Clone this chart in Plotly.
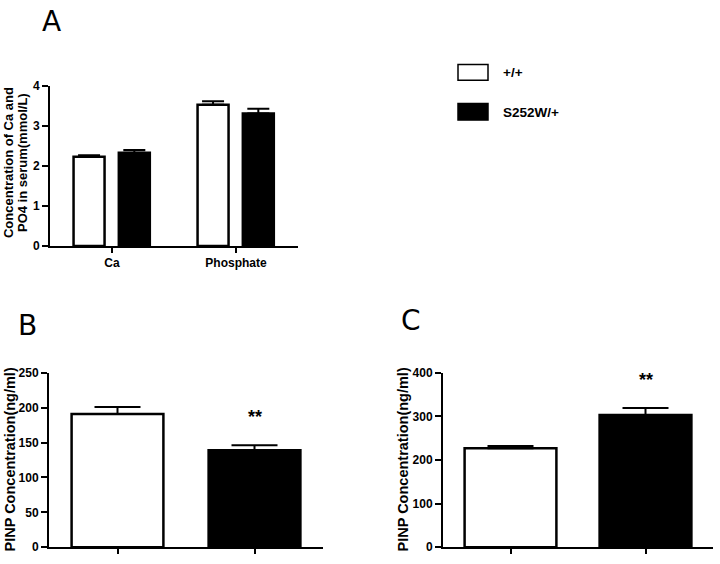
import plotly.graph_objects as go

# ---- Data ----
a_categories = ["Ca", "Phosphate"]
a_wt = [2.23, 3.53]
a_wt_err = [0.04, 0.09]
a_mut = [2.33, 3.31]
a_mut_err = [0.07, 0.12]

b_groups = ["+/+", "S252W/+"]
b_values = [191, 139]
b_err = [10, 7]

c_groups = ["+/+", "S252W/+"]
c_values = [227, 303]
c_err = [5, 16]

legend_labels = ["+/+", "S252W/+"]
a_ticks = [0, 1, 2, 3, 4]
b_ticks = [0, 50, 100, 150, 200, 250]
c_ticks = [0, 100, 200, 300, 400]

W, H = 720, 564
FONT = "Liberation Sans, Arial, sans-serif"


def px_x(p):
    return p / W


def px_y(p):
    return 1 - p / H


fig = go.Figure()

# Panel A
fig.add_trace(go.Bar(
    x=a_categories, y=a_wt, name=legend_labels[0], xaxis="x", yaxis="y",
    width=0.25, offset=-0.31,
    marker=dict(color="white", line=dict(color="black", width=2.5)),
    error_y=dict(type="data", symmetric=False, array=a_wt_err, arrayminus=[0, 0],
                 color="black", thickness=2, width=11),
    showlegend=False,
))
fig.add_trace(go.Bar(
    x=a_categories, y=a_mut, name=legend_labels[1], xaxis="x", yaxis="y",
    width=0.25, offset=0.055,
    marker=dict(color="black", line=dict(color="black", width=2.5)),
    error_y=dict(type="data", symmetric=False, array=a_mut_err, arrayminus=[0, 0],
                 color="black", thickness=2, width=11),
    showlegend=False,
))

# Panel B
fig.add_trace(go.Bar(
    x=b_groups, y=b_values, xaxis="x2", yaxis="y2", width=0.67,
    marker=dict(color=["white", "black"], line=dict(color="black", width=2.5)),
    error_y=dict(type="data", symmetric=False, array=b_err, arrayminus=[0, 0],
                 color="black", thickness=2, width=23),
    showlegend=False,
))

# Panel C
fig.add_trace(go.Bar(
    x=c_groups, y=c_values, xaxis="x3", yaxis="y3", width=0.68,
    marker=dict(color=["white", "black"], line=dict(color="black", width=2.5)),
    error_y=dict(type="data", symmetric=False, array=c_err, arrayminus=[0, 0],
                 color="black", thickness=2, width=23),
    showlegend=False,
))

tickfont = dict(family=FONT, size=12, color="black", weight="bold")
common_y = dict(showgrid=False, zeroline=False, showline=True, linecolor="black", linewidth=2,
                ticks="outside", ticklen=6, tickwidth=2, tickcolor="black",
                tickfont=tickfont)
common_x = dict(showgrid=False, zeroline=False, showline=True, linecolor="black", linewidth=2,
                tickcolor="black", tickwidth=2, ticks="outside", ticklen=5)

fig.update_layout(
    width=W, height=H,
    margin=dict(l=0, r=0, t=0, b=0),
    paper_bgcolor="white", plot_bgcolor="white",
    barmode="overlay",
    showlegend=False,
    xaxis=dict(domain=[px_x(50), px_x(298)], anchor="y", range=[-0.5, 1.5],
               tickfont=dict(family=FONT, size=12, color="black", weight="bold"),
               **common_x),
    yaxis=dict(domain=[px_y(245), px_y(81)], anchor="x", range=[0, 4],
               tickvals=a_ticks, **common_y),
    xaxis2=dict(domain=[px_x(49), px_x(323)], anchor="y2", range=[-0.5, 1.5],
                showticklabels=False, **common_x),
    yaxis2=dict(domain=[px_y(554), px_y(375)], anchor="x2", range=[0, 250],
                tickvals=b_ticks, **common_y),
    xaxis3=dict(domain=[px_x(443), px_x(713)], anchor="y3", range=[-0.5, 1.5],
                showticklabels=False, **common_x),
    yaxis3=dict(domain=[px_y(554), px_y(375)], anchor="x3", range=[0, 400],
                tickvals=c_ticks, **common_y),
)

letter_font = dict(family="DejaVu Sans, sans-serif", size=28, color="black")
bold = dict(family=FONT, color="black", weight="bold")

annotations = [
    dict(text="A", x=px_x(52), y=px_y(15), font=letter_font),
    dict(text="B", x=px_x(27), y=px_y(327), font=letter_font),
    dict(text="C", x=px_x(411), y=px_y(321), font=letter_font),
    dict(text="Concentration of Ca and", x=px_x(8), y=px_y(160),
         textangle=-90, font=dict(size=13, **bold)),
    dict(text="PO4 in serum(mmol/L)", x=px_x(22), y=px_y(160),
         textangle=-90, font=dict(size=13, **bold)),
    dict(text="PINP Concentration(ng/ml)", x=px_x(10), y=px_y(464),
         textangle=-90, font=dict(size=14.5, **bold)),
    dict(text="PINP Concentration(ng/ml)", x=px_x(403), y=px_y(464),
         textangle=-90, font=dict(size=14.5, **bold)),
    dict(text=legend_labels[0], x=px_x(501), y=px_y(67), xanchor="left",
         font=dict(size=13.5, **bold)),
    dict(text=legend_labels[1], x=px_x(501), y=px_y(108), xanchor="left",
         font=dict(size=13.5, **bold)),
]
for a in annotations:
    a.setdefault("xanchor", "center")
    fig.add_annotation(xref="paper", yref="paper", showarrow=False, yanchor="middle", **a)

# significance marks
fig.add_annotation(x=b_groups[1], y=187, xref="x2", yref="y2", text="**", showarrow=False,
                   font=dict(size=18, **bold))
fig.add_annotation(x=c_groups[1], y=384, xref="x3", yref="y3", text="**", showarrow=False,
                   font=dict(size=18, **bold))

# legend swatches
fig.add_shape(type="rect", xref="paper", yref="paper", x0=px_x(458), x1=px_x(488),
              y0=px_y(75), y1=px_y(59), fillcolor="white", line=dict(color="black", width=1.5))
fig.add_shape(type="rect", xref="paper", yref="paper", x0=px_x(458), x1=px_x(488),
              y0=px_y(116), y1=px_y(99), fillcolor="black", line=dict(color="black", width=1.5))

fig.write_html("out.html", config={"displayModeBar": False},
               post_script="document.body.style.margin='0px';")
